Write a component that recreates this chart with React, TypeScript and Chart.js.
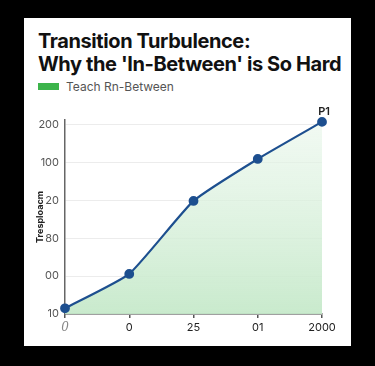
import React, { useEffect, useRef } from "react";
import { Chart, registerables } from "chart.js";

Chart.register(...registerables);

const titleLines = ["Transition Turbulence:", "Why the 'In-Between' is So Hard"];
const seriesName = "Teach Rn-Between";
const yAxisTitle = "Tresploacm";
const categories = ["0", "0", "25", "01", "2000"];
const yTickLabels = ["10", "00", "80", "20", "100", "200"];
const values = [0.15, 1.06, 2.99, 4.1, 5.08];
const pointLabels = ["", "", "", "", "P1"];

const pointLabelPlugin = {
  id: "pointLabelPlugin",
  afterDatasetsDraw(chart: any) {
    const meta = chart.getDatasetMeta(0);
    const ctx = chart.ctx;
    ctx.save();
    ctx.font = "600 11px Inter, 'Noto Sans', sans-serif";
    ctx.fillStyle = "#222";
    ctx.textAlign = "center";
    ctx.textBaseline = "bottom";
    meta.data.forEach((pt: any, i: number) => {
      if (pointLabels[i]) ctx.fillText(pointLabels[i], pt.x + 2, pt.y - 5);
    });
    ctx.restore();
  },
};

export default function App() {
  const ref = useRef<HTMLCanvasElement | null>(null);
  useEffect(() => {
    document.body.style.margin = "0";
    const canvas = ref.current!;
    const chart = new Chart(canvas, {
      type: "line",
      data: {
        labels: categories,
        datasets: [
          {
            label: seriesName,
            data: values,
            borderColor: "#1d4f8f",
            borderWidth: 2.2,
            tension: 0.15,
            pointRadius: 3.8,
            pointBackgroundColor: "#1d4f8f",
            pointBorderColor: "#1d4f8f",
            fill: "start",
            backgroundColor: (c: any) => {
              const area = c.chart.chartArea;
              if (!area) return "rgba(200,235,205,0.7)";
              const g = c.chart.ctx.createLinearGradient(0, area.top, 0, area.bottom);
              g.addColorStop(0, "rgba(232,246,234,0.6)");
              g.addColorStop(1, "rgba(198,233,202,0.95)");
              return g;
            },
            clip: false as any,
          },
        ],
      },
      options: {
        animation: false,
        responsive: false,
        maintainAspectRatio: false,
        layout: { padding: { left: 8, right: 29, top: 20, bottom: 0 } },
        plugins: {
          legend: { display: false },
          tooltip: { enabled: false },
        },
        scales: {
          x: {
            type: "category",
            offset: false,
            grid: {
              drawOnChartArea: false,
              drawTicks: true,
              tickLength: 4,
              color: "#555",
              lineWidth: 1.5,
            },
            border: { color: "#555", width: 1.5 },
            ticks: {
              padding: 3,
              color: (c: any) => (c.index === 0 ? "#888" : "#222"),
              font: (c: any) =>
                c.index === 0
                  ? { family: "'DejaVu Serif', serif", size: 12, style: "italic" }
                  : { family: "Inter, 'Noto Sans', sans-serif", size: 11 },
              maxRotation: 0,
              autoSkip: false,
            },
            afterFit: (s: any) => {
              s.height = 32;
            },
          },
          y: {
            type: "linear",
            min: 0,
            max: 5.13,
            grid: { drawTicks: false, color: "#ececec", lineWidth: 1 },
            border: { color: "#666", width: 1.5 },
            ticks: {
              stepSize: 1,
              includeBounds: false,
              padding: 6,
              color: "#555",
              font: { family: "Inter, 'Noto Sans', sans-serif", size: 11 },
              callback: (v: any) => yTickLabels[Math.round(Number(v))] ?? "",
            },
            title: {
              display: true,
              text: yAxisTitle,
              color: "#222",
              font: { family: "Inter, 'Noto Sans', sans-serif", size: 9, weight: "bold" },
              padding: { top: 3, bottom: 0 },
            },
            afterFit: (s: any) => {
              s.width = 33;
            },
          },
        },
      },
      plugins: [pointLabelPlugin],
    });
    return () => chart.destroy();
  }, []);

  return (
    <div style={{ position: "relative", width: 375, height: 366, background: "#000", overflow: "hidden" }}>
      <div
        style={{
          position: "absolute",
          left: 24,
          top: 18,
          width: 327,
          height: 328,
          background: "#fff",
          fontFamily: "Inter, 'Noto Sans', sans-serif",
        }}
      >
        <div
          style={{
            position: "absolute",
            left: 14,
            top: 12,
            fontSize: 20,
            fontWeight: 700,
            lineHeight: "23px",
            color: "#111",
            letterSpacing: -0.4,
            whiteSpace: "nowrap",
          }}
        >
          {titleLines.map((t, i) => (
            <div key={i}>{t}</div>
          ))}
        </div>
        <div
          style={{
            position: "absolute",
            left: 14,
            top: 61,
            display: "flex",
            alignItems: "center",
            fontSize: 12,
            color: "#555",
          }}
        >
          <span style={{ display: "inline-block", width: 21, height: 7, background: "#3cb44b", marginRight: 7 }} />
          <span>{seriesName}</span>
        </div>
        <canvas ref={ref} width={327} height={246} style={{ position: "absolute", left: 0, top: 82, width: 327, height: 246 }} />
      </div>
    </div>
  );
}
